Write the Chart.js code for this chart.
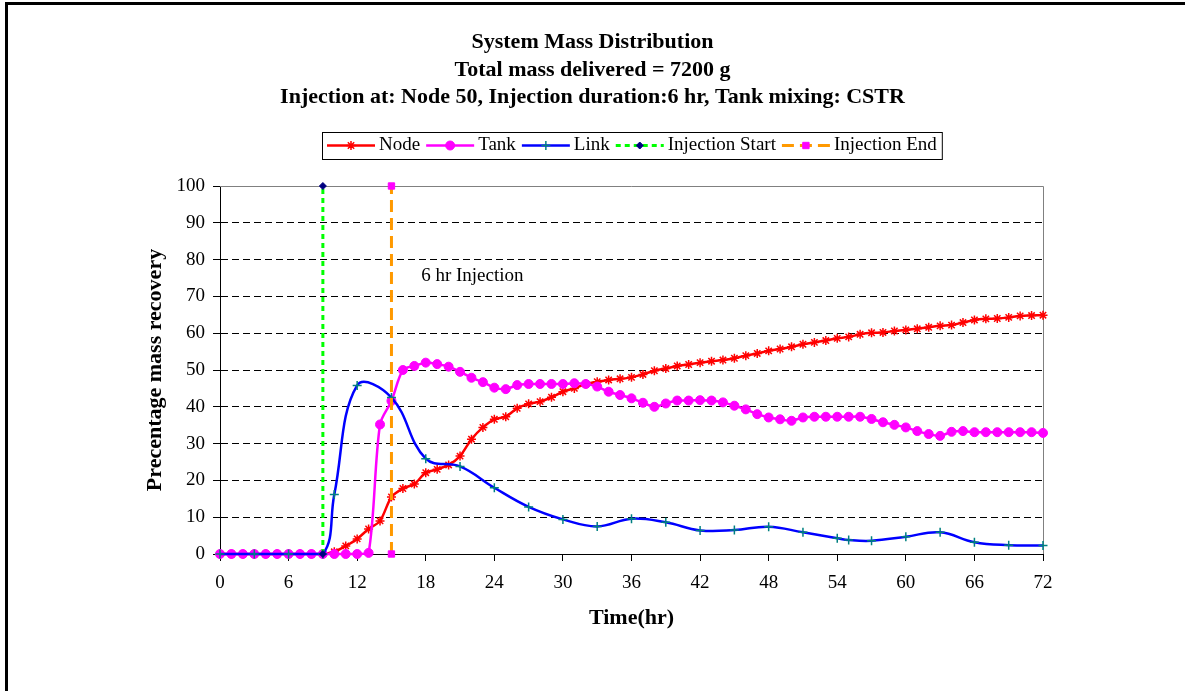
<!DOCTYPE html>
<html lang="en">
<head>
    <meta charset="UTF-8">
    <title>System Mass Distribution</title>
    <script src="https://cdn.jsdelivr.net/npm/chart.js"></script>
    <style>
        body { margin: 0; background: #fff; }
        #frame {
            position: absolute; left: 5px; top: 2px; width: 1300px; height: 800px;
            border-top: 3px solid #000; border-left: 3px solid #000;
        }
        #massChart { position: absolute; left: 0; top: 0; }
    </style>
</head>
<body>
    <div id="frame"></div>
    <canvas id="massChart" width="1185" height="691"></canvas>

    <script>
        // hourly sample times for Node and Tank
        const hours = [];
        for (let h = 0; h <= 72; h++) hours.push(h);

        const nodeValues = [
            0, 0, 0, 0, 0, 0, 0, 0, 0, 0,
            0.6, 2.2, 4.1, 6.8, 9.0, 15.5, 17.8, 19.0, 22.1, 23.0,
            24.2, 26.6, 31.2, 34.4, 36.6, 37.3, 39.6, 40.8, 41.4, 42.6,
            44.1, 45.0, 46.2, 46.8, 47.3, 47.6, 48.0, 48.8, 49.8, 50.4,
            51.1, 51.5, 52.0, 52.4, 52.7, 53.2, 53.9, 54.5, 55.2, 55.7,
            56.3, 57.0, 57.5, 58.0, 58.6, 59.0, 59.7, 60.1, 60.2, 60.6,
            60.9, 61.2, 61.6, 62.0, 62.2, 62.9, 63.6, 63.9, 64.0, 64.3,
            64.7, 64.8, 64.9
        ];

        const tankValues = [
            0, 0, 0, 0, 0, 0, 0, 0, 0, 0,
            0, 0, 0, 0.3, 35.2, 41.6, 50.0, 51.1, 52.0, 51.6,
            50.9, 49.5, 47.9, 46.7, 45.2, 44.8, 45.9, 46.2, 46.2, 46.2,
            46.2, 46.4, 46.2, 45.5, 44.1, 43.2, 42.3, 41.1, 40.0, 40.9,
            41.7, 41.7, 41.8, 41.7, 41.2, 40.3, 39.3, 38.0, 37.1, 36.6,
            36.2, 37.1, 37.3, 37.3, 37.3, 37.3, 37.3, 36.7, 35.8, 35.1,
            34.4, 33.4, 32.6, 32.1, 33.2, 33.4, 33.1, 33.1, 33.1, 33.1,
            33.1, 33.1, 32.9
        ];

        const linkHours = [0, 3, 6, 9, 10, 12, 15, 18, 21, 24, 27, 30, 33, 36, 39, 42, 45, 48, 51, 54, 55, 57, 60, 63, 66, 69, 72];
        const linkValues = [0, 0, 0, 0, 16.2, 45.8, 42.5, 25.9, 23.8, 18.0, 12.8, 9.4, 7.5, 9.6, 8.6, 6.4, 6.5, 7.4, 5.9, 4.3, 3.8, 3.6, 4.7, 5.9, 3.2, 2.4, 2.3];

        const injectionStartHour = 9;
        const injectionEndHour = 15;
        const injectionRange = [0, 100];

        const titleLines = [
            'System Mass Distribution',
            'Total mass delivered = 7200 g',
            'Injection at: Node 50, Injection duration:6 hr, Tank mixing: CSTR'
        ];
        const noteText = '6 hr Injection';
        const notePos = { x: 17.6, y: 75.5 };

        const serif = '"Liberation Serif", "Times New Roman", serif';

        const pairs = (xs, ys) => xs.map((x, i) => ({ x: x, y: ys[i] }));

        // legend drawn like the spreadsheet one: line sample with marker in the middle
        const excelLegend = {
            id: 'excelLegend',
            afterDraw(chart) {
                const ctx = chart.ctx;
                const area = chart.chartArea;
                ctx.save();
                ctx.font = '19px ' + serif;
                const lineLen = 48, gapText = 4, gapItem = 6, padX = 5;
                const items = chart.data.datasets.map(ds => ({ ds: ds, w: ctx.measureText(ds.label).width }));
                let total = padX * 2 - gapItem;
                items.forEach(it => { total += lineLen + gapText + it.w + gapItem; });
                const x0 = Math.round((area.left + area.right) / 2 - total / 2);
                const top = 132, h = 27, midY = top + h / 2;
                ctx.fillStyle = '#fff';
                ctx.fillRect(x0, top, total, h);
                ctx.strokeStyle = '#000';
                ctx.lineWidth = 1;
                ctx.strokeRect(x0 + 0.5, top + 0.5, total, h);

                let x = x0 + padX;
                items.forEach(it => {
                    const ds = it.ds;
                    ctx.save();
                    ctx.strokeStyle = ds.borderColor;
                    ctx.lineWidth = ds.borderWidth;
                    ctx.setLineDash(ds.borderDash || []);
                    ctx.beginPath();
                    ctx.moveTo(x, midY);
                    ctx.lineTo(x + lineLen, midY);
                    ctx.stroke();
                    ctx.restore();

                    ctx.save();
                    ctx.fillStyle = ds.pointBackgroundColor;
                    ctx.strokeStyle = ds.pointBorderColor;
                    ctx.lineWidth = ds.pointBorderWidth;
                    Chart.helpers.drawPoint(ctx, {
                        pointStyle: ds.pointStyle,
                        radius: ds.pointRadius,
                        rotation: 0,
                        borderWidth: ds.pointBorderWidth
                    }, x + lineLen / 2, midY);
                    ctx.restore();

                    ctx.fillStyle = '#000';
                    ctx.textAlign = 'left';
                    ctx.textBaseline = 'middle';
                    ctx.fillText(ds.label, x + lineLen + gapText, midY);
                    x += lineLen + gapText + it.w + gapItem;
                });
                ctx.restore();
            }
        };

        // gray plot border on top and right, plus the text note
        const plotExtras = {
            id: 'plotExtras',
            beforeDatasetsDraw(chart) {
                const ctx = chart.ctx;
                const a = chart.chartArea;
                ctx.save();
                ctx.strokeStyle = '#808080';
                ctx.lineWidth = 1;
                ctx.beginPath();
                ctx.moveTo(Math.round(a.left), Math.round(a.top) + 0.5);
                ctx.lineTo(Math.round(a.right) + 0.5, Math.round(a.top) + 0.5);
                ctx.lineTo(Math.round(a.right) + 0.5, Math.round(a.bottom));
                ctx.stroke();
                ctx.restore();
            },
            afterDatasetsDraw(chart) {
                const ctx = chart.ctx;
                ctx.save();
                ctx.font = '19px ' + serif;
                ctx.fillStyle = '#000';
                ctx.textAlign = 'left';
                ctx.textBaseline = 'middle';
                ctx.fillText(noteText, chart.scales.x.getPixelForValue(notePos.x), chart.scales.y.getPixelForValue(notePos.y));
                ctx.restore();
            }
        };

        const ctx = document.getElementById('massChart').getContext('2d');
        new Chart(ctx, {
            type: 'line',
            data: {
                datasets: [
                    {
                        label: 'Node',
                        data: pairs(hours, nodeValues),
                        borderColor: '#FF0000',
                        borderWidth: 2.5,
                        borderDash: [],
                        tension: 0.3,
                        pointStyle: 'star',
                        pointRadius: 4.5,
                        pointBorderWidth: 1.5,
                        pointBorderColor: '#FF0000',
                        pointBackgroundColor: '#FF0000',
                        clip: false,
                        order: 5
                    },
                    {
                        label: 'Tank',
                        data: pairs(hours, tankValues),
                        borderColor: '#FF00FF',
                        borderWidth: 2.5,
                        borderDash: [],
                        tension: 0.3,
                        pointStyle: 'circle',
                        pointRadius: 4.5,
                        pointBorderWidth: 1,
                        pointBorderColor: '#FF00FF',
                        pointBackgroundColor: '#FF00FF',
                        clip: false,
                        order: 4
                    },
                    {
                        label: 'Link',
                        data: pairs(linkHours, linkValues),
                        borderColor: '#0000FF',
                        borderWidth: 2.5,
                        borderDash: [],
                        tension: 0.4,
                        pointStyle: 'cross',
                        pointRadius: 4.5,
                        pointBorderWidth: 1.5,
                        pointBorderColor: '#008080',
                        pointBackgroundColor: '#008080',
                        clip: false,
                        order: 3
                    },
                    {
                        label: 'Injection Start',
                        data: injectionRange.map(v => ({ x: injectionStartHour, y: v })),
                        borderColor: '#00FF00',
                        borderWidth: 3,
                        borderDash: [5, 4],
                        tension: 0,
                        pointStyle: 'rectRot',
                        pointRadius: 3.5,
                        pointBorderWidth: 1,
                        pointBorderColor: '#000080',
                        pointBackgroundColor: '#000080',
                        clip: false,
                        order: 2
                    },
                    {
                        label: 'Injection End',
                        data: injectionRange.map(v => ({ x: injectionEndHour, y: v })),
                        borderColor: '#FF9900',
                        borderWidth: 3,
                        borderDash: [12, 6],
                        tension: 0,
                        pointStyle: 'rect',
                        pointRadius: 4.5,
                        pointBorderWidth: 1,
                        pointBorderColor: '#FF00FF',
                        pointBackgroundColor: '#FF00FF',
                        clip: false,
                        order: 1
                    }
                ]
            },
            options: {
                responsive: false,
                animation: false,
                devicePixelRatio: 1,
                layout: {
                    padding: { left: 142, right: 142, top: 0, bottom: 59 }
                },
                plugins: {
                    legend: { display: false },
                    tooltip: { enabled: false },
                    title: {
                        display: true,
                        text: titleLines,
                        color: '#000',
                        font: { family: serif, size: 22, weight: 'bold', lineHeight: 1.25 },
                        padding: { top: 29, bottom: 74.5 }
                    }
                },
                scales: {
                    x: {
                        type: 'linear',
                        min: 0,
                        max: 72,
                        afterFit: scale => { scale.height = 78; },
                        ticks: {
                            stepSize: 6,
                            autoSkip: false,
                            maxRotation: 0,
                            padding: 11,
                            color: '#000',
                            font: { family: serif, size: 19 }
                        },
                        grid: {
                            drawOnChartArea: false,
                            drawTicks: true,
                            tickLength: 7,
                            tickColor: '#000'
                        },
                        border: { color: '#000', width: 1 },
                        title: {
                            display: true,
                            text: 'Time(hr)',
                            color: '#000',
                            font: { family: serif, size: 22, weight: 'bold' },
                            padding: { top: 0, bottom: 0 }
                        }
                    },
                    y: {
                        min: 0,
                        max: 100,
                        afterFit: scale => { scale.width = 78; },
                        ticks: {
                            stepSize: 10,
                            padding: 8,
                            color: '#000',
                            font: { family: serif, size: 19 }
                        },
                        grid: {
                            color: c => (c.tick && (c.tick.value === 100 || c.tick.value === 0)) ? 'rgba(0,0,0,0)' : '#000',
                            lineWidth: 1,
                            tickLength: 7,
                            tickColor: '#000'
                        },
                        border: { color: '#000', width: 1, dash: [7, 4] },
                        title: {
                            display: true,
                            text: 'Precentage mass recovery',
                            color: '#000',
                            font: { family: serif, size: 22, weight: 'bold' },
                            padding: { top: 0, bottom: 0 }
                        }
                    }
                }
            },
            plugins: [plotExtras, excelLegend]
        });
    </script>
</body>
</html>
